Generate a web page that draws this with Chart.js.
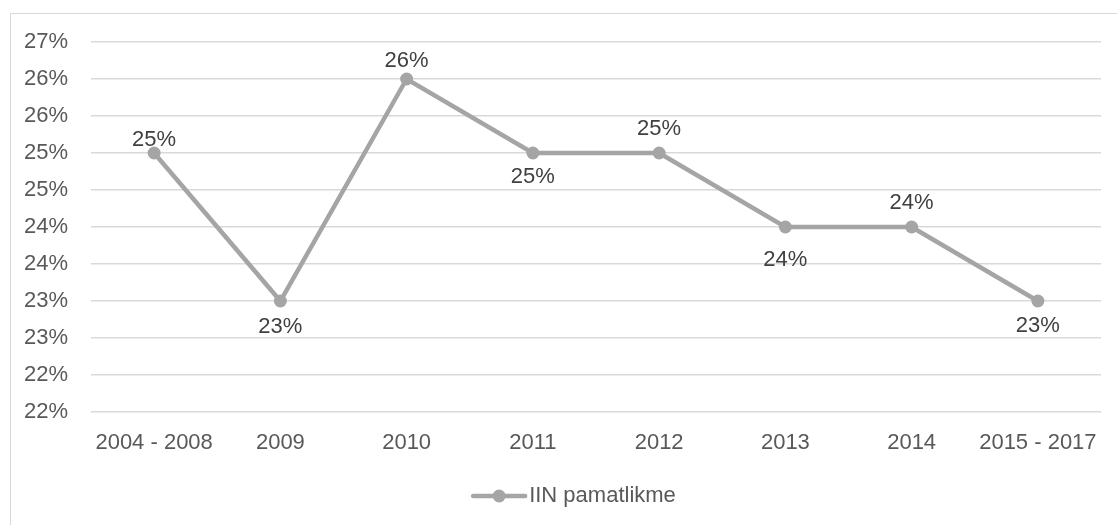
<!DOCTYPE html>
<html><head><meta charset="utf-8">
<script src="https://cdn.jsdelivr.net/npm/chart.js@4/dist/chart.umd.min.js"></script>
<style>
html,body{margin:0;padding:0;background:#fff;}
#wrap{position:absolute;left:0;top:0;width:1117px;height:525px;}
#frame{position:absolute;left:10px;top:13px;width:1200px;height:600px;border-left:1.5px solid #d9d9d9;border-top:1.5px solid #d9d9d9;}
canvas{position:absolute;left:0;top:0;}
</style></head>
<body>
<div id="wrap"><div id="frame"></div><canvas id="c" width="1117" height="525"></canvas></div>
<script>
const categories = ['2004 - 2008','2009','2010','2011','2012','2013','2014','2015 - 2017'];
const seriesName = 'IIN pamatlikme';
const values = [25.5, 23.5, 26.5, 25.5, 25.5, 24.5, 24.5, 23.5];
const valueLabels = ['25%','23%','26%','25%','25%','24%','24%','23%'];
const yTickLabels = ['22%','22%','23%','23%','24%','24%','25%','25%','26%','26%','27%'];
const yMin = 22, yMax = 27, yStep = 0.5;

const labelOffsets = [-13, 26, -18, 24, -24, 33, -24, 25];
const FONT = "'Liberation Sans', Arial, sans-serif";
const LINE = '#a5a5a5';

const dataLabelPlugin = {
  id: 'dl',
  afterDatasetsDraw(chart) {
    const ctx = chart.ctx;
    const meta = chart.getDatasetMeta(0);
    ctx.save();
    ctx.font = '22px ' + FONT;
    ctx.fillStyle = '#404040';
    ctx.textAlign = 'center';
    ctx.textBaseline = 'middle';
    meta.data.forEach((pt, i) => {
      ctx.fillText(valueLabels[i], pt.x, pt.y + labelOffsets[i]);
    });
    // legend
    const ds = chart.data.datasets[0];
    ctx.font = '22px ' + FONT;
    const tw = ctx.measureText(ds.label).width;
    const total = 58 + tw;
    const x0 = chart.width / 2 + 15 - total / 2;
    const y = 496;
    ctx.strokeStyle = ds.borderColor; ctx.lineWidth = ds.borderWidth; ctx.lineCap = 'round';
    ctx.beginPath(); ctx.moveTo(x0 + 2, y); ctx.lineTo(x0 + 54, y); ctx.stroke();
    ctx.fillStyle = ds.pointBackgroundColor;
    ctx.beginPath(); ctx.arc(x0 + 28, y, ds.pointRadius, 0, Math.PI * 2); ctx.fill();
    ctx.fillStyle = '#595959'; ctx.textAlign = 'left';
    ctx.fillText(ds.label, x0 + 58, y);
    ctx.restore();
  }
};

new Chart(document.getElementById('c'), {
  type: 'line',
  data: {
    labels: categories,
    datasets: [{
      label: seriesName,
      data: values,
      borderColor: LINE,
      backgroundColor: LINE,
      borderWidth: 4.5,
      pointRadius: 6.5,
      pointHoverRadius: 6.5,
      pointBackgroundColor: LINE,
      pointBorderWidth: 0,
      pointStyle: 'circle',
      tension: 0
    }]
  },
  options: {
    responsive: false,
    animation: false,
    layout: { padding: { left: 0, right: 16, top: 42, bottom: 51 } },
    plugins: {
      legend: { display: false },
      tooltip: { enabled: false }
    },
    scales: {
      x: {
        offset: true,
        grid: { display: false, drawTicks: false, offset: true },
        border: { display: false },
        ticks: { color: '#595959', font: { family: FONT, size: 22 }, padding: 18, maxRotation: 0, autoSkip: false },
        afterFit(s) { s.height = 62; }
      },
      y: {
        min: yMin, max: yMax,
        grid: { color: '#d9d9d9', lineWidth: 1.5, drawTicks: false },
        border: { display: false },
        ticks: {
          stepSize: yStep,
          color: '#595959',
          font: { family: FONT, size: 22 },
          padding: 23,
          callback(v, i) { return yTickLabels[i]; }
        },
        afterFit(s) { s.width = 91; }
      }
    }
  },
  plugins: [dataLabelPlugin]
});
</script>
</body></html>
